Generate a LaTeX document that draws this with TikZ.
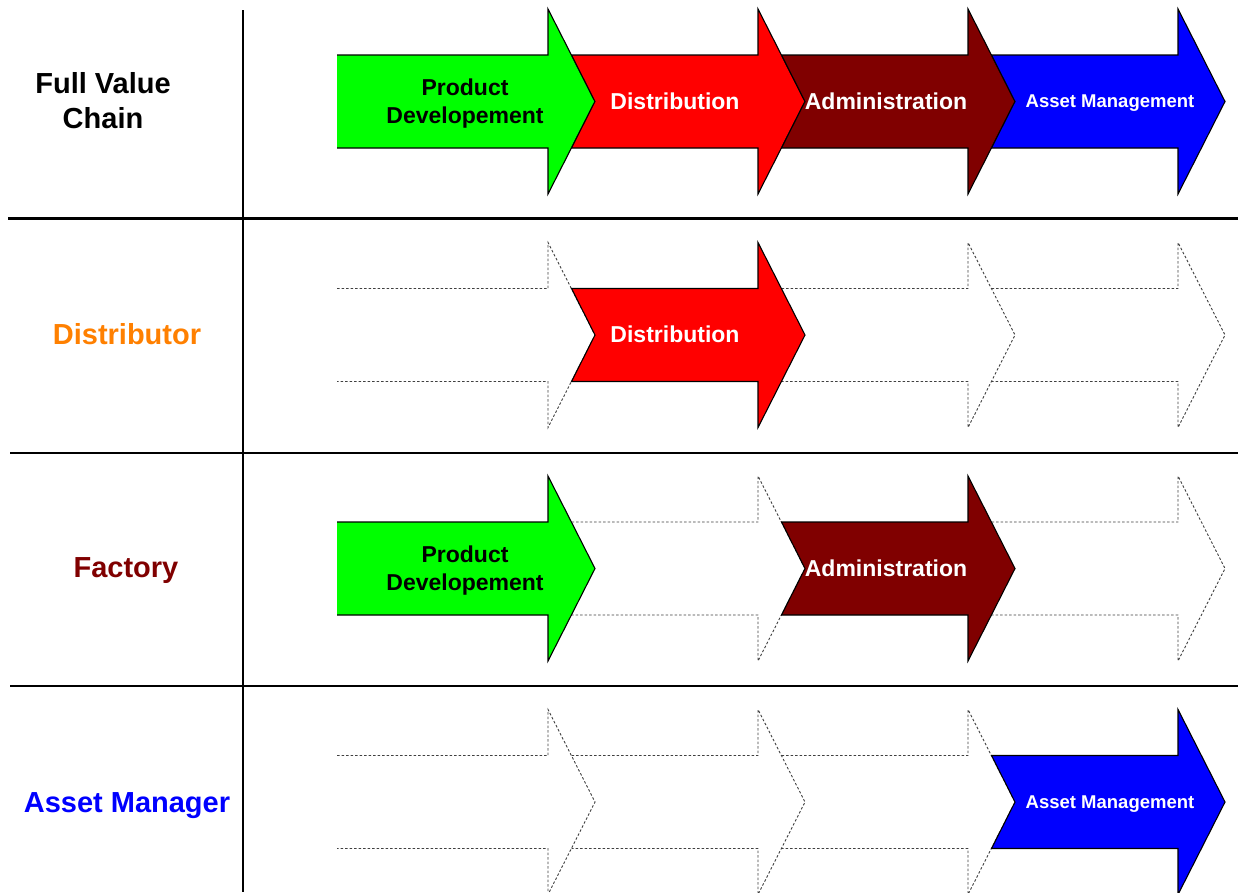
\documentclass[tikz,border=0pt]{standalone}
\usepackage{fontspec}
\setmainfont{Liberation Sans}

% Step colours
\definecolor{stepgreen}{RGB}{0,255,0}
\definecolor{stepred}{RGB}{255,0,0}
\definecolor{stepmaroon}{RGB}{128,0,0}
\definecolor{stepblue}{RGB}{0,0,255}
\definecolor{roleorange}{RGB}{255,128,0}
\definecolor{rolemaroon}{RGB}{128,0,0}
\definecolor{roleblue}{RGB}{0,0,255}

% A filled chevron of the value chain.
% #1 column (1..4), #2 centre y, #3 fill colour, #4 outline style
\newcommand\chevshape[4]{%
  \pgfmathsetmacro\hx{548+210*(#1-1)}%
  \pgfmathsetmacro\px{\hx-210}%
  \ifnum#1=1
    \path[fill=#3] (337,#2-46.5) -- (\hx,#2-46.5) -- (\hx,#2-92.5) -- (\hx+47,#2)
      -- (\hx,#2+92.5) -- (\hx,#2+46.5) -- (337,#2+46.5) -- cycle;
    \draw[#4] (337,#2-46.5) -- (\hx,#2-46.5) -- (\hx,#2-92.5) -- (\hx+47,#2)
      -- (\hx,#2+92.5) -- (\hx,#2+46.5) -- (337,#2+46.5);
  \else
    \path[fill=#3,#4] (\px+23.5,#2-46.5) -- (\hx,#2-46.5) -- (\hx,#2-92.5) -- (\hx+47,#2)
      -- (\hx,#2+92.5) -- (\hx,#2+46.5) -- (\px+23.5,#2+46.5) -- (\px+47,#2) -- cycle;
  \fi
}

% An empty (dashed) chevron; its notch is the previous chevron's head,
% which is already drawn, so only the body and head are traced here.
% #1 column (1..4), #2 centre y, #3 outline style
\newcommand\ghostshape[3]{%
  \pgfmathsetmacro\hx{548+210*(#1-1)}%
  \pgfmathsetmacro\lx{\ifnum#1=1 337\else \hx-210+23.5\fi}%
  \draw[#3] (\lx,#2-46.5) -- (\hx,#2-46.5) -- (\hx,#2-92.5) -- (\hx+47,#2)
    -- (\hx,#2+92.5) -- (\hx,#2+46.5) -- (\lx,#2+46.5);
}

\begin{document}
\begin{tikzpicture}[x=1pt,y=-1pt,
  solidline/.style={draw=black,line width=1.1pt,line join=miter},
  ghostline/.style={draw=black!75,line width=0.9pt,dash pattern=on 2.5pt off 2pt},
  rowlabel/.style={font=\fontsize{29}{35}\selectfont\bfseries,align=center,inner sep=0pt},
  steplabel/.style={font=\fontsize{23}{28}\selectfont\bfseries,align=center,inner sep=0pt,text=white},
  smallstep/.style={steplabel,font=\fontsize{18.5}{22}\selectfont\bfseries},
  thickrule/.style={line width=3pt},
  thinrule/.style={line width=1.1pt}]
\useasboundingbox (0,0) rectangle (1238,892);
\fill[white] (0,0) rectangle (1238,892);

% Table rules
\draw[thickrule] (8,218) -- (1238,218);
\draw[thinrule] (10,453) -- (1238,453);
\draw[thinrule] (10,686) -- (1238,686);
\draw[thinrule] (243,10) -- (243,892);

% Row 1: full value chain
\chevshape{1}{101.5}{stepgreen}{solidline}
\chevshape{2}{101.5}{stepred}{solidline}
\chevshape{3}{101.5}{stepmaroon}{solidline}
\chevshape{4}{101.5}{stepblue}{solidline}

% Row 2: distributor
\ghostshape{1}{335}{ghostline}
\ghostshape{3}{335}{ghostline}
\ghostshape{4}{335}{ghostline}
\chevshape{2}{335}{stepred}{solidline}

% Row 3: factory
\ghostshape{2}{568.5}{ghostline}
\ghostshape{4}{568.5}{ghostline}
\chevshape{1}{568.5}{stepgreen}{solidline}
\chevshape{3}{568.5}{stepmaroon}{solidline}

% Row 4: asset manager
\ghostshape{1}{802}{ghostline}
\ghostshape{2}{802}{ghostline}
\ghostshape{3}{802}{ghostline}
\chevshape{4}{802}{stepblue}{solidline}

% Row labels
\node[rowlabel] (fullchain) at (103,101) {Full Value\\Chain};
\node[rowlabel,text=roleorange] (distributor) at (127,334) {Distributor};
\node[rowlabel,text=rolemaroon] (factory) at (126,571) {Factory};
\node[rowlabel,text=roleblue] (assetmanager) at (127,806) {Asset Manager};

% Step labels
\node[steplabel,text=black] (pd1) at (465,104) {Product\\Developement};
\node[steplabel] (dist1) at (675,101) {Distribution};
\node[steplabel] (adm1) at (886,101) {Administration};
\node[smallstep] (am1) at (1110,103) {Asset Management};

\node[steplabel] (dist2) at (675,334) {Distribution};

\node[steplabel,text=black] (pd3) at (465,571) {Product\\Developement};
\node[steplabel] (adm3) at (886,568) {Administration};

\node[smallstep] (am4) at (1110,804) {Asset Management};
\end{tikzpicture}
\end{document}
